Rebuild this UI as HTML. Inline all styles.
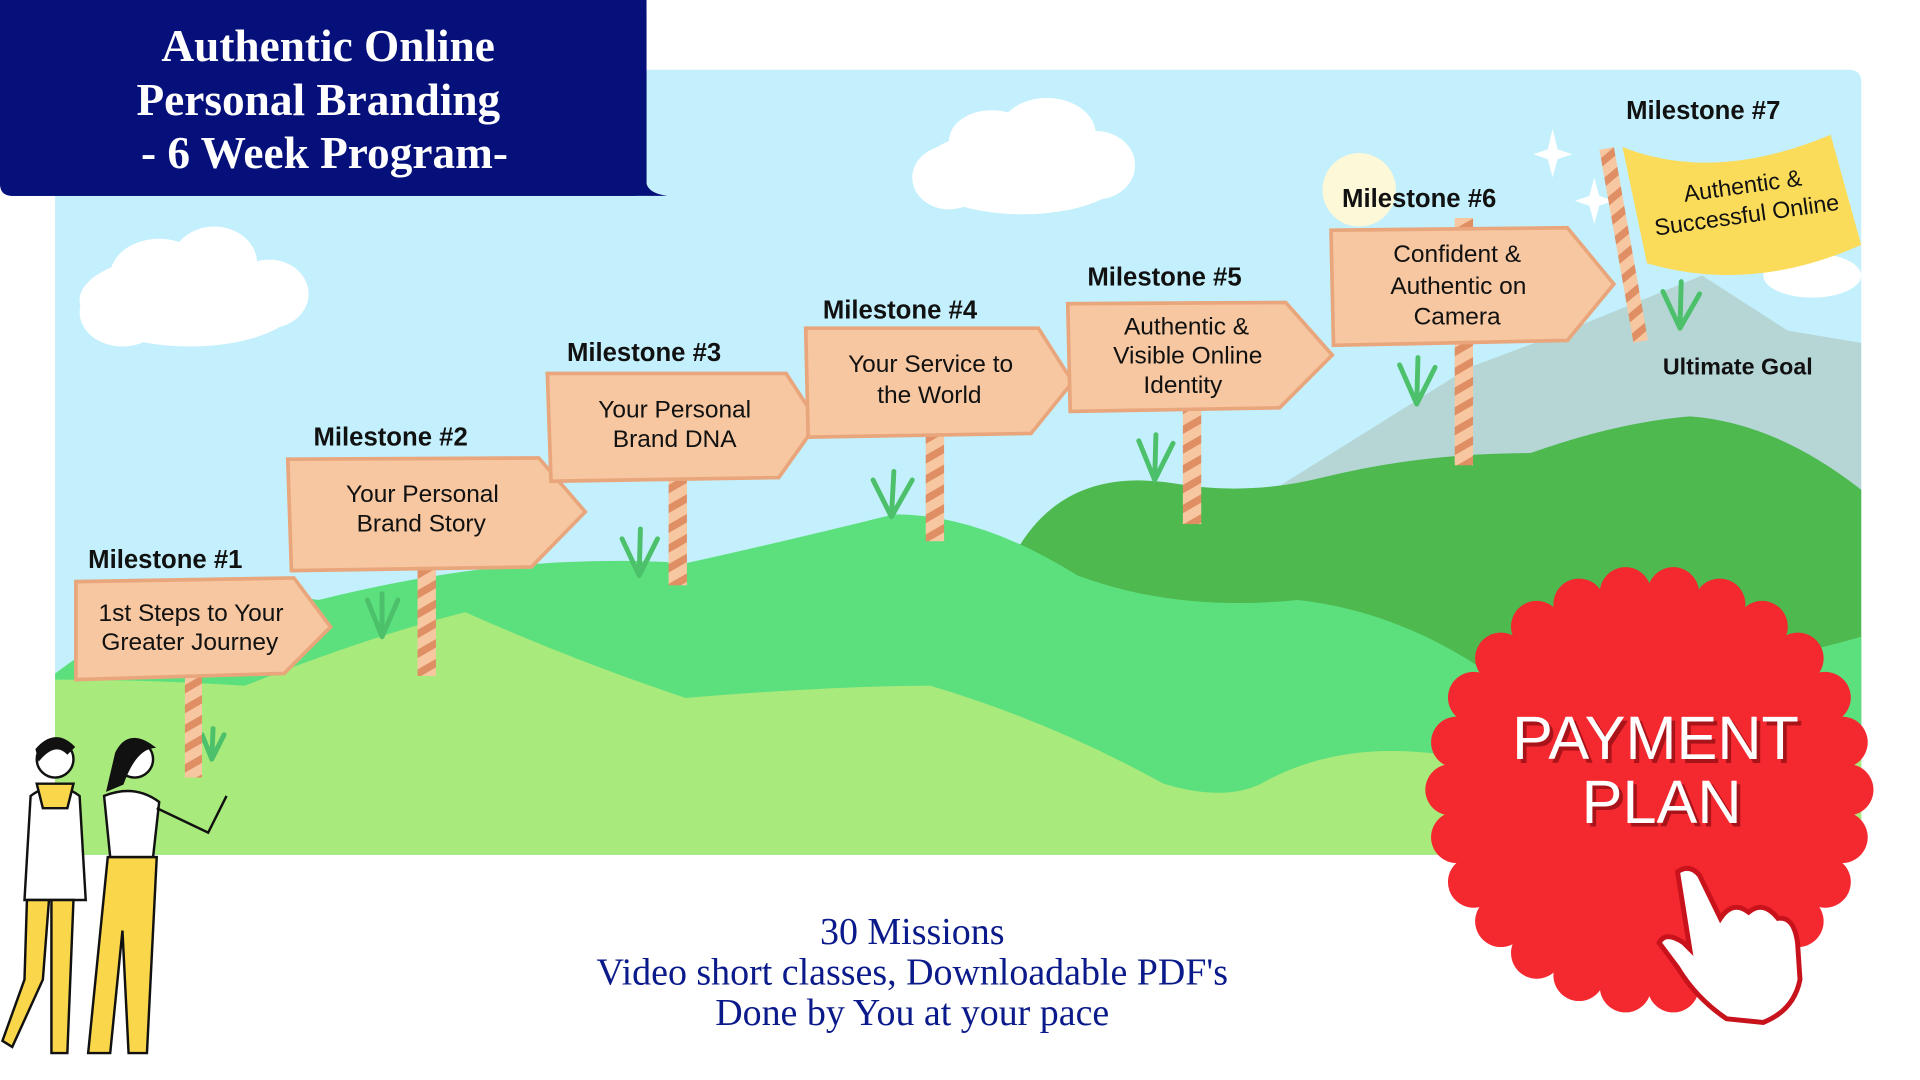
<!DOCTYPE html>
<html><head><meta charset="utf-8"><style>
html,body{margin:0;padding:0;background:#fff;}
svg{display:block;}
.ms{font-family:"Liberation Sans",sans-serif;font-weight:bold;font-size:21px;fill:#111;}
.st{font-family:"Liberation Sans",sans-serif;font-size:20px;fill:#111;text-anchor:middle;}
.ser{font-family:"Liberation Serif",serif;}
</style></head><body>
<svg width="1920" height="1080" viewBox="0 0 1568 882" preserveAspectRatio="none" xmlns="http://www.w3.org/2000/svg">
<defs>
<pattern id="stripe" width="14" height="14" patternUnits="userSpaceOnUse" patternTransform="rotate(-30)">
<rect width="14" height="14" fill="#f6c7a0"/><rect width="14" height="6" fill="#e08e63"/>
</pattern>
</defs>
<rect width="1568" height="882" fill="#fff"/>
<path d="M45 57 H1510 Q1520 57 1520 67 V698 H45 Z" fill="#c3f0fc"/>
<circle cx="1110" cy="155" r="30" fill="#fdf8d8"/>
<g fill="#fff">
<ellipse cx="155" cy="245" rx="90" ry="38"/><ellipse cx="130" cy="225" rx="40" ry="30"/><ellipse cx="175" cy="215" rx="35" ry="30"/><ellipse cx="220" cy="240" rx="32" ry="28"/><ellipse cx="100" cy="255" rx="35" ry="28"/>
<ellipse cx="835" cy="140" rx="85" ry="35"/><ellipse cx="810" cy="115" rx="35" ry="25"/><ellipse cx="855" cy="110" rx="40" ry="30"/><ellipse cx="895" cy="135" rx="32" ry="28"/><ellipse cx="775" cy="145" rx="30" ry="26"/>
<ellipse cx="1480" cy="225" rx="40" ry="18"/>
<path d="M1268 105 L1272 122 L1284 126 L1272 130 L1268 145 L1264 130 L1252 126 L1264 122Z"/>
<path d="M1302 145 L1306 160 L1318 164 L1306 168 L1302 183 L1298 168 L1286 164 L1298 160Z"/>
</g>
<path d="M1040 400 L1200 300 L1280 270 L1390 225 L1460 270 L1520 280 V560 H1040Z" fill="#b6d6d6"/>
<path d="M830 450 Q870 380 960 395 Q1020 405 1080 390 Q1160 370 1250 370 Q1320 345 1380 340 Q1450 345 1520 400 V600 H830Z" fill="#4db94f"/>
<path d="M45 550 Q150 470 260 490 Q420 450 560 460 Q650 440 730 420 Q800 420 880 470 Q960 500 1060 490 Q1150 500 1230 560 Q1380 560 1520 520 V698 H45Z" fill="#5ce07e"/>
<path d="M45 555 Q120 555 200 560 Q300 520 380 500 Q470 540 560 570 Q680 560 760 560 Q860 590 950 640 Q1000 655 1030 640 Q1100 600 1200 620 L1520 600 V698 H45Z" fill="#a9ea7c"/>
<g stroke="#4cc06a" stroke-width="4" fill="none" stroke-linecap="round">
<path d="M312 520 L300 490 M312 520 L312 485 M312 520 L325 490"/>
<path d="M522 470 L508 440 M522 470 L523 432 M522 470 L537 440"/>
<path d="M728 422 L713 392 M728 422 L730 385 M728 422 L745 392"/>
<path d="M943 392 L930 360 M943 392 L944 355 M943 392 L958 362"/>
<path d="M1157 330 L1143 298 M1157 330 L1158 292 M1157 330 L1172 300"/>
<path d="M1372 268 L1358 238 M1372 268 L1373 230 M1372 268 L1388 240"/>
<path d="M173 620 L165 600 M173 620 L174 595 M173 620 L183 600"/>
</g>
<g fill="url(#stripe)">
<rect x="151" y="545" width="14" height="90"/>
<rect x="341" y="460" width="15" height="92"/>
<rect x="546" y="388" width="15" height="90"/>
<rect x="756" y="350" width="15" height="92"/>
<rect x="966" y="330" width="15" height="98"/>
<rect x="1188" y="178" width="15" height="202"/>
<rect x="1320" y="120" width="12" height="160" transform="rotate(-10 1326 200)"/>
</g>
<g fill="#f6c7a0" stroke="#e9a67c" stroke-width="3">
<path d="M62 475 L240 472 L270 512 L232 550 L62 555Z"/>
<path d="M235 375 L440 374 L478 418 L434 463 L238 466Z"/>
<path d="M447 305 L642 305 L668 345 L636 390 L450 393Z"/>
<path d="M658 268 L848 268 L876 312 L842 354 L660 357Z"/>
<path d="M872 248 L1050 247 L1088 290 L1045 333 L874 336Z"/>
<path d="M1087 188 L1280 186 L1318 232 L1280 278 L1089 282Z"/>
</g>
<path d="M1325 120 Q1400 150 1495 110 L1520 200 Q1430 240 1345 215Z" fill="#fbdc5a"/>
<text class="ms" x="72" y="464">Milestone #1</text>
<text class="ms" x="256" y="364">Milestone #2</text>
<text class="ms" x="463" y="295">Milestone #3</text>
<text class="ms" x="672" y="260">Milestone #4</text>
<text class="ms" x="888" y="233">Milestone #5</text>
<text class="ms" x="1096" y="169">Milestone #6</text>
<text class="ms" x="1328" y="97">Milestone #7</text>
<text class="ms" x="1358" y="306" style="font-size:19px">Ultimate Goal</text>
<text class="st" x="156" y="507">1st Steps to Your</text><text class="st" x="155" y="531">Greater Journey</text>
<text class="st" x="345" y="410">Your Personal</text><text class="st" x="344" y="434">Brand Story</text>
<text class="st" x="551" y="341">Your Personal</text><text class="st" x="551" y="365">Brand DNA</text>
<text class="st" x="760" y="304">Your Service to</text><text class="st" x="759" y="329">the World</text>
<text class="st" x="969" y="273">Authentic &amp;</text><text class="st" x="970" y="297">Visible Online</text><text class="st" x="966" y="321">Identity</text>
<text class="st" x="1190" y="214">Confident &amp;</text><text class="st" x="1191" y="240">Authentic on</text><text class="st" x="1190" y="265">Camera</text>
<g transform="rotate(-8 1425 165)"><text class="st" x="1425" y="158" style="font-size:19px">Authentic &amp;</text><text class="st" x="1425" y="182" style="font-size:19px">Successful Online</text></g>
<path d="M0 0 H528 V150 Q530 158 545 160 H10 Q0 160 0 150Z" fill="#06107a"/>
<rect x="0" y="0" width="528" height="160" rx="10" fill="#06107a"/>
<g class="ser" fill="#fff" font-weight="bold" font-size="37" text-anchor="middle">
<text x="268" y="50">Authentic Online</text>
<text x="260" y="94">Personal Branding</text>
<text x="265" y="137">- 6 Week Program-</text>
</g>
<g fill="#f4282f">
<circle cx="1347" cy="645" r="166"/>
<circle cx="1509" cy="645" r="21"/><circle cx="1504.3" cy="683.8" r="21"/><circle cx="1490.5" cy="720.3" r="21"/><circle cx="1468.3" cy="752.4" r="21"/><circle cx="1439" cy="778.3" r="21"/><circle cx="1404.4" cy="796.5" r="21"/><circle cx="1366.5" cy="805.8" r="21"/><circle cx="1327.5" cy="805.8" r="21"/><circle cx="1289.6" cy="796.5" r="21"/><circle cx="1255" cy="778.3" r="21"/><circle cx="1225.7" cy="752.4" r="21"/><circle cx="1203.5" cy="720.3" r="21"/><circle cx="1189.7" cy="683.8" r="21"/><circle cx="1185" cy="645" r="21"/><circle cx="1189.7" cy="606.2" r="21"/><circle cx="1203.5" cy="569.7" r="21"/><circle cx="1225.7" cy="537.6" r="21"/><circle cx="1255" cy="511.7" r="21"/><circle cx="1289.6" cy="493.5" r="21"/><circle cx="1327.5" cy="484.2" r="21"/><circle cx="1366.5" cy="484.2" r="21"/><circle cx="1404.4" cy="493.5" r="21"/><circle cx="1439" cy="511.7" r="21"/><circle cx="1468.3" cy="537.6" r="21"/><circle cx="1490.5" cy="569.7" r="21"/><circle cx="1504.3" cy="606.2" r="21"/>
</g>
<g font-family="Liberation Sans, sans-serif" font-size="50" text-anchor="middle">
<text x="1355" y="623" fill="#a8141a">PAYMENT</text><text x="1360" y="675" fill="#a8141a">PLAN</text>
<text x="1352" y="620" fill="#fff">PAYMENT</text><text x="1357" y="672" fill="#fff">PLAN</text>
</g>
<path d="M1370 712 Q1380 705 1388 715 L1405 750 Q1415 735 1428 745 Q1440 735 1452 750 Q1465 748 1468 770 L1470 800 Q1465 825 1440 835 L1410 832 Q1385 815 1370 790 L1355 770 Q1360 760 1375 770 L1380 775 Z" fill="#fff" stroke="#c8121c" stroke-width="4"/>
<g class="ser" fill="#0b1a8a" font-size="31" text-anchor="middle">
<text x="745" y="771">30 Missions</text>
<text x="745" y="804">Video short classes, Downloadable PDF's</text>
<text x="745" y="837">Done by You at your pace</text>
</g>
<g stroke="#111" stroke-width="2">
<circle cx="45" cy="620" r="15" fill="#fff"/><path d="M30 612 Q45 595 60 610 L55 615 Q45 605 32 620Z" fill="#111"/>
<path d="M25 650 Q45 635 65 650 L70 735 L20 735Z" fill="#fff"/>
<path d="M30 640 L60 640 L55 660 L35 660Z" fill="#f9d64a"/>
<path d="M22 735 L40 735 L35 800 L10 855 L2 850 L20 800Z" fill="#f9d64a"/>
<path d="M42 735 L60 735 L55 860 L42 860Z" fill="#f9d64a"/>
<circle cx="110" cy="620" r="15" fill="#fff"/><path d="M95 615 Q105 595 125 610 Q110 612 100 640 L88 645Z" fill="#111"/>
<path d="M85 650 Q110 640 130 655 L125 700 L90 700Z" fill="#fff"/>
<path d="M128 660 L170 680 L185 650" fill="none"/>
<path d="M88 700 L128 700 L120 860 L105 860 L100 760 L90 860 L72 860Z" fill="#f9d64a"/>
</g>
</svg>
</body></html>
